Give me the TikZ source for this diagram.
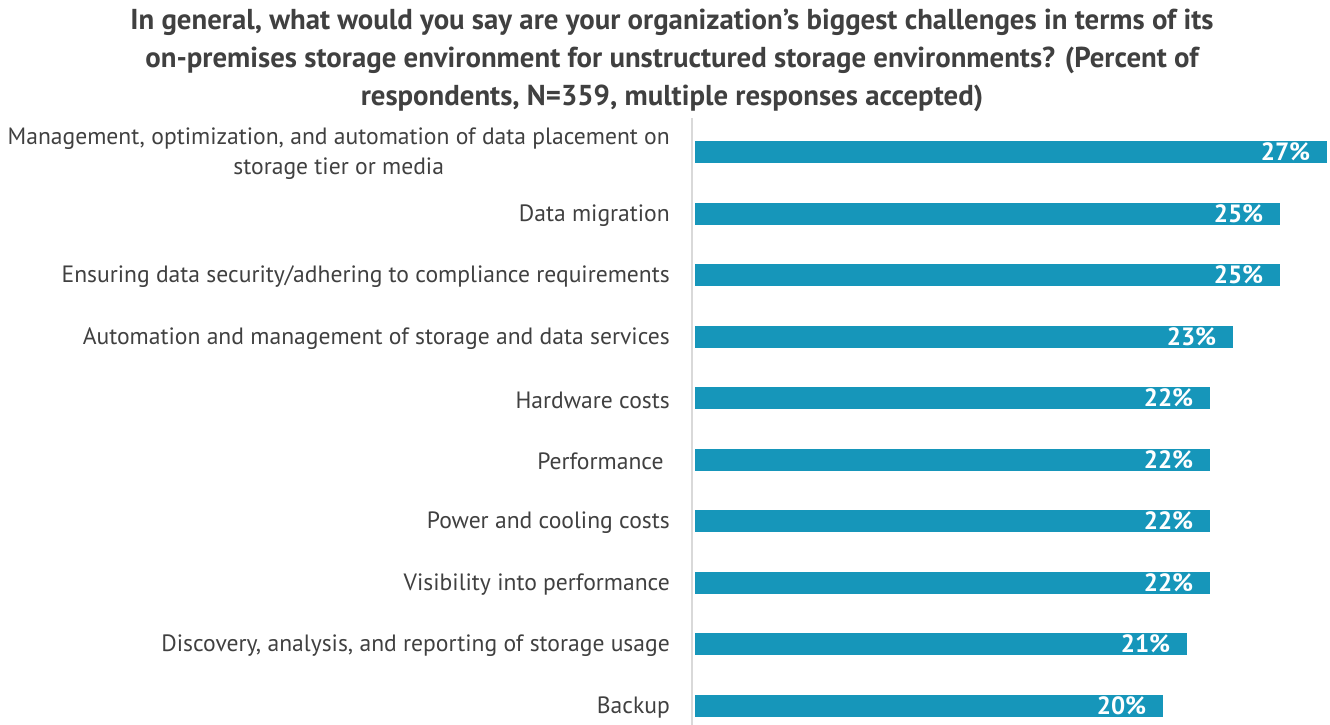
\documentclass[tikz,border=0pt]{standalone}
\usepackage{fontspec}
\setmainfont{PT Sans}
\usepackage{xcolor}
\usetikzlibrary{positioning}
\definecolor{barblue}{HTML}{1696BA}
\definecolor{textgray}{HTML}{404040}
\tikzset{bar node/.style={rectangle,fill=barblue,minimum height=22pt,inner sep=0pt},}
\tikzset{label node/.style={text=textgray,font=\fontsize{23.6}{30}\selectfont,align=center,inner sep=0pt,yshift=-2pt},}
\tikzset{value node/.style={text=white,font=\bfseries\fontsize{25}{25}\selectfont,inner sep=0pt},}

\begin{document}
\begin{tikzpicture}[x=1pt,y=-1pt]
       \useasboundingbox (0,0) rectangle (1330,725);
       \node[text=textgray,font=\bfseries\fontsize{28.8}{38}\selectfont,align=center] (title) at (672,60)
       {In general, what would you say are your organization’s biggest challenges in terms of its\\
        on-premises storage environment for unstructured storage environments? (Percent of\\
        respondents, N=359, multiple responses accepted)};

       \coordinate (axtop) at (692,118);
       \coordinate (axbot) at (692,725);
       \draw[black!15,line width=1.5pt] (axtop) -- (axbot);

       \node[bar node, minimum width=632pt, anchor=west] (b1) at (695,152) {};
       \node[bar node, minimum width=585pt] (b2) [below right=39.1pt and 0pt of b1.south west] {};
       \node[bar node, minimum width=585pt] (b3) [below right=39.1pt and 0pt of b2.south west] {};
       \node[bar node, minimum width=538pt] (b4) [below right=39.1pt and 0pt of b3.south west] {};
       \node[bar node, minimum width=515pt] (b5) [below right=39.1pt and 0pt of b4.south west] {};
       \node[bar node, minimum width=515pt] (b6) [below right=39.1pt and 0pt of b5.south west] {};
       \node[bar node, minimum width=515pt] (b7) [below right=39.1pt and 0pt of b6.south west] {};
       \node[bar node, minimum width=515pt] (b8) [below right=39.1pt and 0pt of b7.south west] {};
       \node[bar node, minimum width=492pt] (b9) [below right=39.1pt and 0pt of b8.south west] {};
       \node[bar node, minimum width=468pt] (b10) [below right=39.1pt and 0pt of b9.south west] {};

       \node[value node] (v1) [left=17pt of b1.east] {27\%};
       \node[value node] (v2) [left=17pt of b2.east] {25\%};
       \node[value node] (v3) [left=17pt of b3.east] {25\%};
       \node[value node] (v4) [left=17pt of b4.east] {23\%};
       \node[value node] (v5) [left=17pt of b5.east] {22\%};
       \node[value node] (v6) [left=17pt of b6.east] {22\%};
       \node[value node] (v7) [left=17pt of b7.east] {22\%};
       \node[value node] (v8) [left=17pt of b8.east] {22\%};
       \node[value node] (v9) [left=17pt of b9.east] {21\%};
       \node[value node] (v10) [left=17pt of b10.east] {20\%};

       \node[label node] (l1) [left=25pt of b1.west] {Management, optimization, and automation of data placement on\\ storage tier or media};
       \node[label node] (l2) [left=25pt of b2.west] {Data migration};
       \node[label node] (l3) [left=25pt of b3.west] {Ensuring data security/adhering to compliance requirements};
       \node[label node] (l4) [left=25pt of b4.west] {Automation and management of storage and data services};
       \node[label node] (l5) [left=25pt of b5.west] {Hardware costs};
       \node[label node] (l6) [left=25pt of b6.west] {Performance\ };
       \node[label node] (l7) [left=25pt of b7.west] {Power and cooling costs};
       \node[label node] (l8) [left=25pt of b8.west] {Visibility into performance};
       \node[label node] (l9) [left=25pt of b9.west] {Discovery, analysis, and reporting of storage usage};
       \node[label node] (l10) [left=25pt of b10.west] {Backup};
\end{tikzpicture}
\end{document}
